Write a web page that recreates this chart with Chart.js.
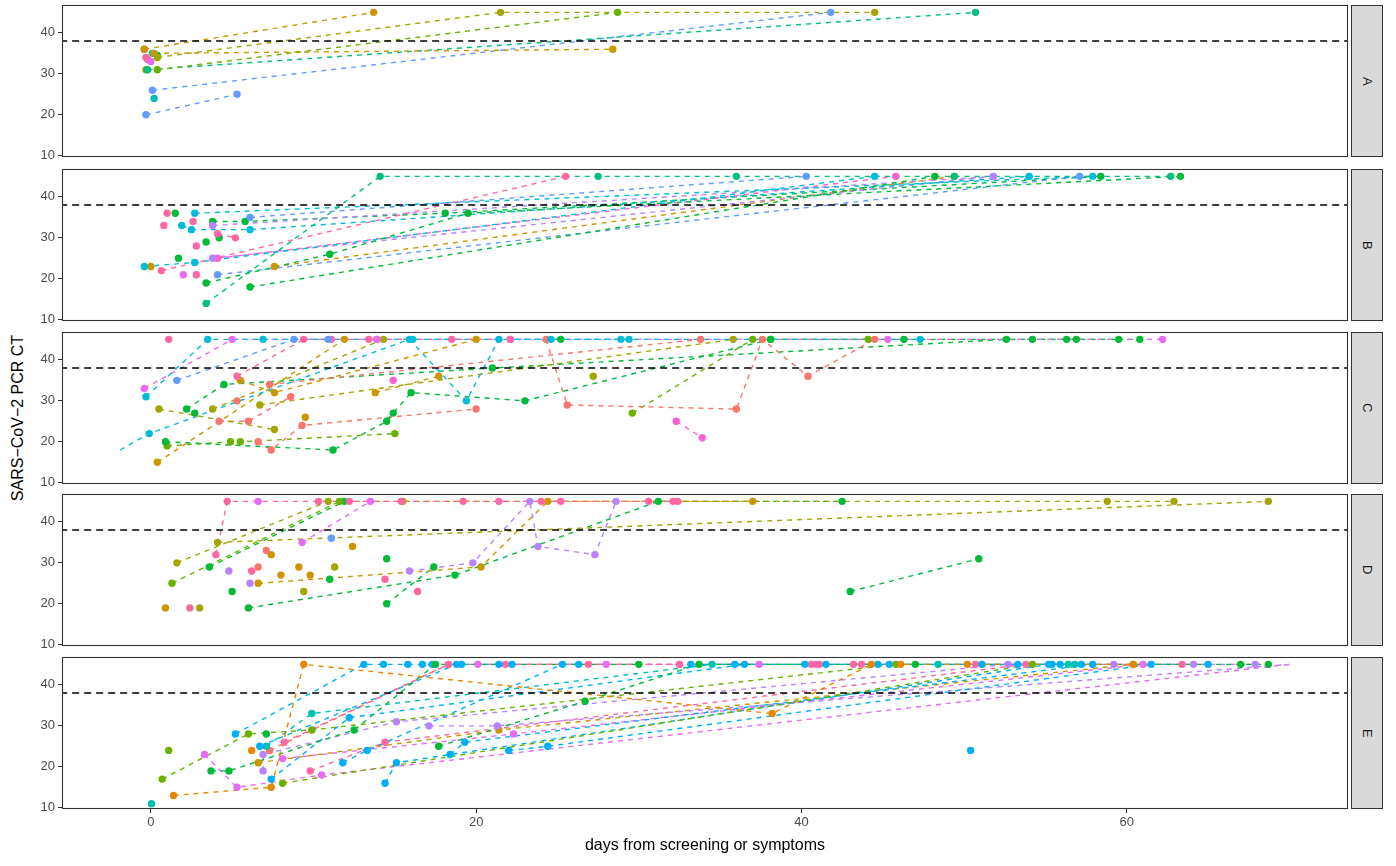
<html>
<head>
  <meta charset="UTF-8">
  <script src="https://cdn.jsdelivr.net/npm/chart.js@4.4.0/dist/chart.umd.min.js"></script>
  <style>
    body {padding: 0; margin: 0; background: #fff; font-family: "Liberation Sans", Arial, sans-serif;}
    #wrap {position: relative; width: 1396px; height: 866px; overflow: hidden;}
    canvas {position: absolute; left: 0;}
    .strip {position: absolute; left: 1351px; width: 32px; background: #D9D9D9; border: 1px solid #333;
            box-sizing: border-box; display: flex; align-items: center; justify-content: center;
            writing-mode: vertical-rl; font-size: 13px; color: #1A1A1A;}
    #ytitle {position: absolute; left: 18px; top: 418px; transform: translate(-50%, -50%) rotate(-90deg);
             font-size: 16px; white-space: nowrap; color: #000;}
  </style>
</head>

<body>
<div id="wrap">
  <div id="ytitle">SARS−CoV−2 PCR CT</div>
</div>

<script>
// facet labels
var facets = ['A', 'B', 'C', 'D', 'E'];
var threshold = 38;
var xTicks = [0, 20, 40, 60];
var yTicks = [10, 20, 30, 40];

// each series = one individual: colour id, days, CT values
var aId  = [2, 3, 4, 2, 6, 10, 10, 7, 14, 14, 12, 13, 3, 7, 5];
var aDay = [[-0.4,13.7],[0.4,21.5,44.5],[0.4,28.7],[0.2,28.4],[-0.2,50.7],[0.1,41.8],[-0.3,5.3],[0.2],[-0.4],[-0.3],[0.0],[-0.2],[-0.3],[0.1],[0.4]];
var aCt  = [[36,45],[34,45,45],[31,45],[35,36],[31,45],[26,45],[20,25],[24],[36],[34],[33],[33.5],[31],[35],[34.5]];

var bId  = [6, 14, 5, 5, 8, 8, 8, 10, 11, 11, 10, 13, 2, 2, 5, 14, 5, 14, 14, 14, 5, 5, 14, 5, 12, 14];
var bDay = [[3.4,14.1,27.5,36.0,49.4,62.7],[0.65,25.5],[3.4,11.0,19.5,63.3],[6.1,48.2],[-0.4,2.7,44.5],
            [1.9,2.5,6.1,54.0],[2.7,57.9],[6.1,40.3],[3.8,51.8],[3.8,51.8],[4.1,57.1],[4.1,45.8],[0.0],
            [7.6,49.4],[3.8,5.8,18.1,58.4],[1.0],[1.5],[0.8],[2.6],[4.1,5.2],[4.2],[3.4],[2.8],[1.7],[2.0],[2.8]];
var bCt  = [[14,45,45,45,45,45],[22,45],[19,26,36,45],[18,45],[23,24,45],
            [33,32,32,45],[36,45],[35,45],[33,45],[25,45],[21,45],[25,45],[23],
            [23,45],[34,34,36,45],[36],[36],[33],[34],[31,30],[30],[29],[28],[25],[21],[21]];

var cId  = [8, 8, 12, 10, 14, 12, 2, 3, 3, 3, 3, 2, 2, 0, 0, 5, 4, 4, 5, 5, 5, 0, 0, 0, 2, 13, 13, 14, 5];
var cDay = [[-1.9,-0.1,15.9,19.4,21.4,28.9],[-0.3,3.5,6.9,16.1,24.6,29.4,47.3],[-0.4,5.0,13.9],[1.6,8.8,10.9],
            [5.3,9.4,11.1,13.4,18.5,22.1],[13.9,22.1,45.3,62.2],[0.4,11.9],[3.8,14.3],[0.5,7.6],[6.7,35.8],[27.2],
            [5.5,7.6,20.0],[13.8,17.7],[7.3,33.8],[24.3,25.6,36.0,37.6,40.4,44.5],
            [0.9,11.2,14.5,14.9,16.0,23.0,38.1],[1.0,4.9,5.5,15.0],[29.6,37.0,44.1],[2.2,4.5,21.0,52.6,56.3,60.8],
            [38.1,46.3,54.2,56.9,59.5],[2.7],[4.2,6.0,8.6],[5.3],[6.6,7.4,9.3,20.0],[9.5],[14.9],[32.3,33.9],[1.1],[25.2]];
var cCt  = [[18,22,45,30,45,45],[31,45,45,45,45,45,45],[33,45,45],[35,45,45],
            [36,45,45,45,45,45],[45,45,45,45],[15,45],[28,45],[28,23],[29,45],[36],
            [35,32,45],[32,36],[34,45],[45,29,28,45,36,45],
            [20,18,25,27,32,30,45],[19,20,20,22],[27,45,45],[28,34,38,45,45,45],
            [45,45,45,45,45],[27],[25,25,31],[30],[20,18,24,28],[26],[35],[25,21],[45],[45]];

var dId  = [14, 12, 12, 3, 3, 4, 5, 11, 2, 5, 5, 5, 3, 2, 14, 5, 11, 11, 14, 0, 0, 2, 10, 2, 5, 3, 2, 2, 2, 5, 3, 14, 14];
var dDay = [[4.0,4.7,10.3,12.2,15.4,19.2,21.4,24.0,25.2,30.6,32.1,32.4],[6.6],[9.3,13.5],[1.6,10.9,15.5,58.8,62.9],
            [4.1,68.7],[1.3,11.6],[3.6,11.9],[15.9,19.8,23.3,23.8,27.3,28.6],[6.6,20.3,24.4,37.0],[6.0,18.7,31.2,42.5],
            [14.5,17.4],[43.0,50.9],[3.0],[0.9],[2.4],[5.0],[6.1],[4.8],[6.2],[6.6],[7.1],[7.4],[11.1],[12.4],[14.5],
            [11.3],[8.0],[9.1],[9.8],[11.0],[9.4],[14.4],[16.4]];
var dCt  = [[32,45,45,45,45,45,45,45,45,45,45,45],[45],[35,45],[30,45,45,45,45],
            [35,45],[25,45],[29,45],[28,30,45,34,32,45],[25,29,45,45],[19,27,45,45],
            [20,29],[23,31],[19],[19],[19],[23],[25],[28],[28],[29],[33],[32],[36],[34],[31],
            [29],[27],[29],[27],[26],[23],[26],[23]];

var eId  = [7, 1, 4, 4, 5, 4, 5, 9, 9, 9, 9, 9, 9, 9, 9, 9, 7, 12, 14, 14, 0, 12, 12, 11, 11, 2, 14, 1, 5];
var eDay = [[0.04],[1.4,7.4,9.4,38.2,44.3,46.1,50.2,60.4],[0.7,6.0,9.9,45.8],[1.1],[3.7,4.8,12.5,17.5,30.0],
            [8.1,54.2],[17.7,26.7,33.7,47.0,67.0,68.7],[5.2,13.1,14.3,15.8,16.7,17.3],[7.4,12.2,36.5],
            [11.8,13.3,25.3,26.3],[14.4,15.1,55.2,55.4],[18.4,19.3,57.9],[22.0,24.4,61.5,65.0],
            [6.7,18.8,19.1,21.4,22.2],[50.4],[33.2,35.9,40.2,41.5,44.7,45.4,51.1,53.3,55.9,57.2],
            [7.1,9.9,34.5,48.4,56.4,56.8],[3.3,5.3,10.5,70.0],[8.2,18.3,32.5,40.6,40.9,41.1,43.2,43.7,50.7,63.4],
            [21.8,26.9,32.5],[7.3,18.3],[8.1,22.3,61.0],[20.1,28.0,37.4],[6.9,6.9,15.1,52.7,59.2,64.1,67.9],
            [17.1,21.3,70.0],[6.6,21.4,60.4],[9.8,14.4,53.8],[6.2],[7.1]];
var eCt  = [[11],[13,15,45,33,45,45,45,45],[17,28,29,45],[24],[19,19,29,45,45],
            [16,45],[25,36,45,45,45,45],[28,45,45,45,45,45],[17,32,45],
            [21,24,45,45],[16,21,45,45],[23,26,45],[24,25,45,45],
            [25,45,45,45,45],[24],[45,45,45,45,45,45,45,45,45,45],
            [25,33,45,45,45,45],[23,15,18,45],[26,45,45,45,45,45,45,45,45,45],
            [45,45,45],[24,45],[22,28,45],[45,45,45],[19,23,31,45,45,45,45],
            [30,30,45],[21,29,45],[19,26,45],[24],[28]];

// ggplot-like hue palette
var hues = ['#F8766D','#E58700','#C99800','#A3A500','#6BB100','#00BA38','#00BF7D','#00C0AF',
            '#00BCD8','#00B0F6','#619CFF','#B983FF','#E76BF3','#FD61D1','#FF67A4'];

var panelTop = [5, 169, 332, 494, 657];
var PH = 152, PAD = 12, XH = 50, W = 1352;

var boxPlugin = {
  id: 'box',
  afterDraw: function(chart) {
    var a = chart.chartArea, c = chart.ctx;
    c.save();
    c.strokeStyle = '#333333';
    c.lineWidth = 1.1;
    c.strokeRect(a.left + 0.5, a.top + 0.5, a.right - a.left - 1, a.bottom - a.top - 1);
    c.restore();
  }
};

function toPts(days, cts) {
  return days.map(function(d, i) { return {x: d, y: cts[i]}; });
}

function makePanel(k, ids, days, cts) {
  var bottom = (k == facets.length - 1);
  var wrap = document.getElementById('wrap');
  var cv = document.createElement('canvas');
  cv.width = W;
  cv.height = PAD + PH + PAD + (bottom ? XH : 0);
  cv.style.top = (panelTop[k] - PAD) + 'px';
  wrap.appendChild(cv);

  var strip = document.createElement('div');
  strip.className = 'strip';
  strip.style.top = panelTop[k] + 'px';
  strip.style.height = PH + 'px';
  strip.textContent = facets[k];
  wrap.appendChild(strip);

  var datasets = [];
  for (var i = 0; i < ids.length; i++) {
    var col = hues[ids[i]];
    var pts = toPts(days[i], cts[i]);
    if (pts.length > 1) {
      datasets.push({data: pts, showLine: true, borderColor: col, borderWidth: 1.4,
                     borderDash: [5, 5], pointRadius: 0, order: 2});
    }
    datasets.push({data: pts, showLine: false, backgroundColor: col, borderWidth: 0,
                   pointRadius: function(ctx) {
                     var r = ctx.raw;
                     return (r && (r.x < -1 || r.x > 69.5)) ? 0 : 3.7;
                   },
                   order: 0});
  }
  datasets.push({data: [{x: -10, y: threshold}, {x: 80, y: threshold}], showLine: true,
                 borderColor: '#000', borderWidth: 1.6, borderDash: [7, 5], pointRadius: 0, order: 1});

  new Chart(cv.getContext('2d'), {
    type: 'scatter',
    data: {datasets: datasets},
    plugins: [boxPlugin],
    options: {
      responsive: false,
      animation: false,
      devicePixelRatio: 1,
      layout: {padding: {top: PAD, bottom: PAD, left: 0, right: 0}},
      plugins: {legend: {display: false}, tooltip: {enabled: false}},
      scales: {
        x: {
          type: 'linear', min: -5.46, max: 73.6, display: bottom,
          afterBuildTicks: function(s) { s.ticks = xTicks.map(function(v) { return {value: v}; }); },
          afterFit: function(s) { s.height = bottom ? XH : 0; },
          ticks: {color: '#4D4D4D', font: {size: 13, family: 'Liberation Sans'}, padding: 2, maxRotation: 0},
          grid: {drawOnChartArea: false, color: '#333333', tickLength: 4},
          border: {display: false},
          title: {display: true, text: 'days from screening or symptoms', color: '#000',
                  font: {size: 16, family: 'Liberation Sans'}, padding: {top: 2, bottom: 4}}
        },
        y: {
          min: 9.7, max: 46.8,
          afterBuildTicks: function(s) { s.ticks = yTicks.map(function(v) { return {value: v}; }); },
          afterFit: function(s) { s.width = 62; },
          ticks: {color: '#4D4D4D', font: {size: 13, family: 'Liberation Sans'}, padding: 3},
          grid: {drawOnChartArea: false, color: '#333333', tickLength: 4},
          border: {display: false}
        }
      }
    }
  });
}

makePanel(0, aId, aDay, aCt);
makePanel(1, bId, bDay, bCt);
makePanel(2, cId, cDay, cCt);
makePanel(3, dId, dDay, dCt);
makePanel(4, eId, eDay, eCt);
</script>
</body>
</html>
